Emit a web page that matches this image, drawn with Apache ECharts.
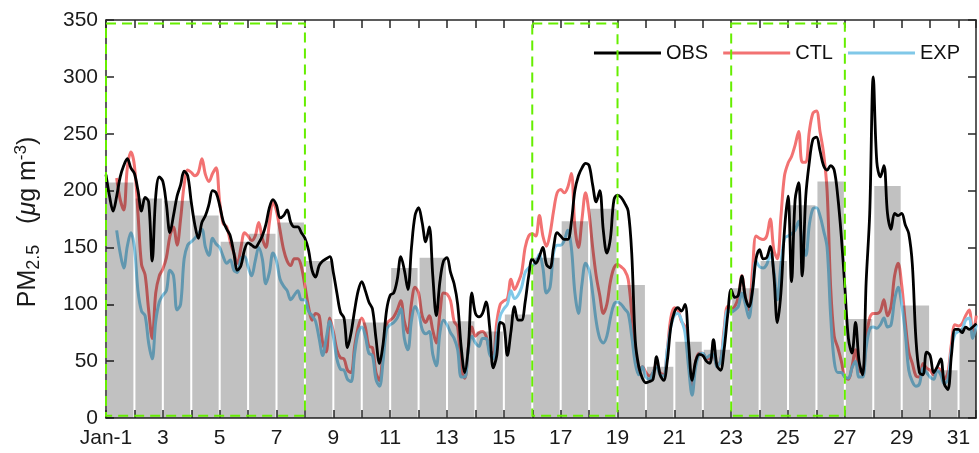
<!DOCTYPE html>
<html>
<head>
<meta charset="utf-8">
<script src="https://cdn.jsdelivr.net/npm/echarts@6/dist/echarts.min.js"></script>
<style>
  html, body { margin: 0; padding: 0; background: #fff; }
  #chart { width: 979px; height: 453px; }
</style>
</head>
<body>
<div id="chart"></div>
<script>
// hourly series sampled every 3 h, starting Jan-1 00:00
const stepDays = 0.125;

const obs = [
  214, 195, 182, 195, 212, 222, 228, 220,
  215, 200, 182, 194, 190, 138, 195, 212,
  208, 188, 163, 178, 195, 205, 217, 213,
  190, 170, 158, 172, 178, 188, 200, 198,
  187, 173, 166, 160, 145, 130, 134, 148,
  154, 152, 150, 154, 160, 170, 185, 192,
  187, 176, 178, 183, 172, 168, 168, 163,
  158, 148, 130, 124, 134, 138, 140, 142,
  128, 110, 93, 88, 62, 75, 95, 112,
  120, 112, 102, 96, 70, 48, 65, 95,
  108, 110, 122, 142, 130, 113, 150, 178,
  185, 172, 155, 168, 125, 90, 120, 138,
  141, 128, 118, 100, 62, 40, 62, 110,
  92, 89, 92, 102, 80, 44, 55, 84,
  82, 55, 76, 98, 86, 86, 102, 125,
  140, 136, 142, 150, 135, 132, 150, 163,
  160, 157, 157, 172, 200, 213, 220, 224,
  222, 205, 190, 200, 165, 145, 158, 192,
  196, 194, 189, 182, 145, 68, 45, 35,
  31, 32, 34, 54, 38, 33, 50, 80,
  93, 97, 94, 100, 66, 33, 50, 56,
  55, 50, 48, 69, 46, 42, 60, 90,
  113, 106, 108, 125, 106, 98, 112, 140,
  148, 140, 141, 151, 126, 84, 110, 165,
  195, 120, 192, 207, 125, 195, 225, 245,
  247, 235, 222, 218, 222, 218, 195, 160,
  115, 70, 57, 84, 50, 38, 120, 180,
  300, 225, 212, 222, 180, 166, 180, 178,
  180, 170, 162, 135, 70, 40, 38, 58,
  55, 40, 45, 52, 30, 25, 55, 78,
  78, 75, 80, 78, 80, 83
];

const ctl = [
  null, null, null, 211, 192, 183, 220, 234,
  222, 180, 135, 126, 95, 70, 110, 125,
  131, 141, 160, 168, 152, 175, 205, 218,
  216, 213, 216, 228, 214, 208, 215, 220,
  190, 171, 168, 155, 145, 136, 150, 163,
  160, 156, 160, 172, 158, 150, 172, 190,
  182, 165, 148, 138, 134, 140, 140, 133,
  116, 98, 86, 92, 90, 66, 58, 88,
  76, 60, 53, 52, 42, 40, 63, 80,
  88, 80, 63, 62, 40, 33, 60, 83,
  86, 89, 95, 103, 85, 75, 101, 115,
  110, 90, 84, 90, 77, 66, 92, 110,
  109, 103, 85, 80, 42, 35, 62, 80,
  72, 75, 76, 72, 60, 56, 84, 100,
  103, 105, 122, 113, 119, 128, 150, 160,
  162, 160, 178, 160, 151, 162, 182, 198,
  201, 198, 203, 215, 168, 150, 175, 198,
  180, 150, 125, 108, 92, 100, 120, 132,
  135, 133, 130, 122, 92, 55, 42, 45,
  40, 37, 40, 48, 40, 38, 60, 88,
  97, 95, 85, 80, 52, 28, 50, 57,
  57, 52, 52, 56, 46, 50, 78, 98,
  96, 98, 106, 125, 106, 95, 130, 160,
  158, 157, 160, 175, 148, 140, 177, 213,
  224, 230, 240, 252, 225, 225, 252, 268,
  270, 252, 233, 200, 115, 72, 62, 50,
  36, 34, 45, 60, 42, 40, 68, 88,
  92, 92, 94, 104, 90, 98, 125, 136,
  117, 85, 58, 48, 37, 36, 48, 44,
  42, 38, 44, 42, 34, 40, 65, 82,
  81, 83, 90, 95, 75, 90
];

const exp = [
  null, null, null, 165, 145, 132, 151, 163,
  150, 112, 94, 90, 66, 52, 85, 102,
  108, 112, 130, 125, 95, 100, 140, 152,
  155, 158, 162, 166, 150, 143, 158, 153,
  150, 142, 136, 139, 130, 128, 140, 142,
  133, 125, 138, 150, 140, 118, 128, 145,
  138, 122, 116, 112, 104, 108, 112, 104,
  104, 94, 90, 85, 70, 55, 70, 85,
  72, 52, 43, 42, 34, 32, 57, 75,
  80, 72, 57, 55, 34, 28, 50, 78,
  82, 84, 88, 96, 70, 60, 86, 98,
  92, 78, 74, 76, 56, 46, 75, 86,
  82, 75, 70, 60, 36, 36, 60, 72,
  66, 63, 70, 70, 56, 52, 72, 90,
  96, 100, 112, 105, 108, 115, 128, 132,
  134, 137, 144, 132, 110, 115, 145, 152,
  152, 156, 165, 150, 110, 92, 118, 136,
  130, 110, 85, 70, 66, 72, 88, 100,
  102, 100, 96, 92, 72, 48, 38, 45,
  36, 34, 40, 45, 38, 37, 60, 80,
  90, 92, 86, 75, 45, 20, 45, 56,
  57, 53, 55, 56, 45, 50, 74, 95,
  93, 95, 98, 110, 100, 88, 112, 138,
  133, 132, 135, 144, 130, 104, 135, 158,
  160, 162, 165, 173, 155, 143, 170, 184,
  185, 178, 165, 150, 90, 50, 40, 40,
  36, 35, 44, 50, 36, 36, 62, 78,
  80, 79, 82, 88, 80, 82, 104, 115,
  100, 75, 42, 32, 28, 30, 44, 40,
  36, 34, 42, 38, 30, 34, 60, 74,
  76, 78, 86, 88, 70, 82
];

// daily mean of OBS (grey bars), Jan 1..31
const days = [1, 2, 3, 4, 5, 6, 7, 8, 9, 10, 11, 12, 13, 14, 15, 16,
  17, 18, 19, 20, 21, 22, 23, 24, 25, 26, 27, 28, 29, 30, 31];
const dailyMean = [207, 193, 191, 178, 155, 162, 172, 138, 87, 84, 132, 141, 85, 76, 91, 141,
  173, 184, 117, 45, 67, 60, 114, 138, 187, 208, 87, 204, 99, 42, 79];

// highlighted periods (dashed boxes)
const boxStart = [1, 16, 23];
const boxEnd = [8, 19, 27];
const boxLow = 2;
const boxHigh = 347;

const xMin = 1;
const xMax = 31.615;

function toPairs(arr) {
  return arr.map((v, i) => [xMin + i * stepDays, v]);
}

const FONT = 'Liberation Sans, Arial, sans-serif';
const AX = '#262626';
const TXT = '#1a1a1a';

const chart = echarts.init(document.getElementById('chart'));

const xCommon = {
  type: 'value',
  min: xMin,
  max: xMax,
  interval: 1,
  splitLine: { show: false },
  axisLine: { show: true, onZero: false, lineStyle: { color: AX, width: 1.5 } },
  axisTick: { show: true, inside: true, length: 8, lineStyle: { color: AX, width: 1.5 } }
};
const yCommon = {
  type: 'value',
  min: 0,
  max: 350,
  interval: 50,
  splitLine: { show: false },
  axisLine: { show: true, onZero: false, lineStyle: { color: AX, width: 1.5 } },
  axisTick: { show: true, inside: true, length: 8, lineStyle: { color: AX, width: 1.5 } }
};

const option = {
  animation: false,
  backgroundColor: '#fff',
  textStyle: { fontFamily: FONT },
  grid: { left: 106, right: 2, top: 20, bottom: 35 },
  legend: {
    data: ['OBS', 'CTL', 'EXP'],
    right: 19,
    top: 43,
    padding: 0,
    itemGap: 15,
    itemWidth: 67,
    itemHeight: 3,
    icon: 'rect',
    textStyle: { fontSize: 20, color: '#111', fontFamily: FONT }
  },
  // y-axis title, drawn as rotated rich text
  graphic: [{
    type: 'text',
    x: 28,
    y: 222,
    rotation: Math.PI / 2,
    silent: true,
    style: {
      text: '{a|PM}{sub|2.5}{a|   (}{mu|μ}{a|g m}{sup|-3}{a|)}',
      align: 'center',
      verticalAlign: 'middle',
      fill: TXT,
      font: '25px ' + FONT,
      rich: {
        a: { fontSize: 25, lineHeight: 30, fill: TXT, fontFamily: FONT, verticalAlign: 'middle' },
        mu: { fontSize: 25, lineHeight: 30, fontStyle: 'italic', fill: TXT, fontFamily: FONT, verticalAlign: 'middle' },
        sub: { fontSize: 18, lineHeight: 17, fill: TXT, fontFamily: FONT, verticalAlign: 'bottom' },
        sup: { fontSize: 17, lineHeight: 17, fill: TXT, fontFamily: FONT, verticalAlign: 'top' }
      }
    }
  }],
  xAxis: [
    Object.assign({}, xCommon, {
      position: 'bottom',
      axisLabel: {
        show: true,
        margin: 10,
        fontSize: 21,
        color: TXT,
        fontFamily: FONT,
        formatter: function (v) {
          if (Math.abs(v - 1) < 1e-6) return 'Jan-1';
          if (Math.abs(v - Math.round(v)) < 1e-6 && Math.round(v) % 2 === 1) return String(Math.round(v));
          return '';
        }
      }
    }),
    Object.assign({}, xCommon, { position: 'top', axisLabel: { show: false } })
  ],
  yAxis: [
    Object.assign({}, yCommon, {
      position: 'left',
      axisLabel: { show: true, margin: 8, fontSize: 21, color: TXT, fontFamily: FONT }
    }),
    Object.assign({}, yCommon, { position: 'right', axisLabel: { show: false } })
  ],
  series: [
    {
      name: 'OBS',
      type: 'line',
      data: toPairs(obs),
      symbol: 'none',
      smooth: 0.35,
      z: 3,
      lineStyle: { color: '#000', width: 2.8 },
      itemStyle: { color: '#000' }
    },
    {
      name: 'CTL',
      type: 'line',
      data: toPairs(ctl),
      symbol: 'none',
      smooth: 0.35,
      z: 2,
      lineStyle: { color: '#F27272', width: 3 },
      itemStyle: { color: '#F27272' }
    },
    {
      name: 'EXP',
      type: 'line',
      data: toPairs(exp),
      symbol: 'none',
      smooth: 0.35,
      z: 2,
      lineStyle: { color: '#80C8E8', width: 3 },
      itemStyle: { color: '#80C8E8' }
    },
    {
      name: 'daily',
      type: 'custom',
      z: 5,
      silent: true,
      data: days.map((d, i) => [d, dailyMean[i]]),
      renderItem: function (params, api) {
        const d = api.value(0);
        const v = api.value(1);
        const p0 = api.coord([d, v]);
        const p1 = api.coord([d + 1, 0]);
        const shape = echarts.graphic.clipRectByRect({
          x: p0[0] + 1,
          y: p0[1],
          width: p1[0] - p0[0] - 2,
          height: p1[1] - p0[1]
        }, {
          x: params.coordSys.x,
          y: params.coordSys.y,
          width: params.coordSys.width,
          height: params.coordSys.height
        });
        if (!shape) return null;
        return { type: 'rect', shape: shape, style: { fill: 'rgba(0,0,0,0.245)' } };
      }
    },
    {
      name: 'periods',
      type: 'custom',
      z: 6,
      silent: true,
      encode: { x: [0, 2], y: [1, 3] },
      data: boxStart.map((s, i) => [s, boxLow, boxEnd[i], boxHigh]),
      renderItem: function (params, api) {
        const a = api.coord([api.value(0), api.value(3)]);
        const b = api.coord([api.value(2), api.value(1)]);
        return {
          type: 'rect',
          shape: { x: a[0], y: a[1], width: b[0] - a[0], height: b[1] - a[1] },
          style: { fill: 'none', stroke: '#66EE00', lineWidth: 2, lineDash: [10, 6] }
        };
      }
    }
  ]
};

chart.setOption(option);
</script>
</body>
</html>
